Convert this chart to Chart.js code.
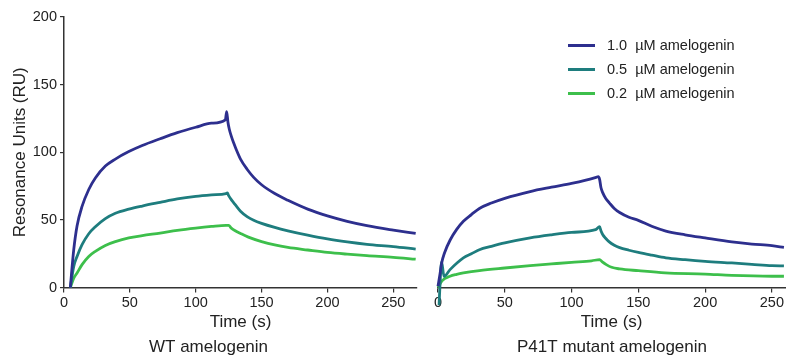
<!DOCTYPE html>
<html>
<head>
<meta charset="utf-8">
<script src="https://cdn.jsdelivr.net/npm/chart.js@4.4.1/dist/chart.umd.min.js"></script>
<style>
  body { margin: 0; background: #fff; }
  .wrap { position: relative; width: 786px; height: 362px; overflow: hidden; }
  #left { position: absolute; left: 0; top: 0; }
  #right { position: absolute; left: 425px; top: 0; }
  .legend { position: absolute; left: 568px; top: 33px; font-family: "Liberation Sans", Arial, sans-serif; font-size: 14.5px; color: #222; }
  .legend div { height: 24px; line-height: 24px; white-space: nowrap; }
  .legend span { display: inline-block; width: 27px; height: 3px; vertical-align: middle; margin-right: 12px; position: relative; top: -1px; }
</style>
</head>
<body>
<div class="wrap">
  <canvas id="left" width="425" height="362"></canvas>
  <canvas id="right" width="361" height="362"></canvas>
  <div class="legend" id="legend"></div>
</div>
<script>
// series labels + colours
var labels = ["1.0\u00a0 \u00b5M amelogenin", "0.5\u00a0 \u00b5M amelogenin", "0.2\u00a0 \u00b5M amelogenin"];
var colors = ["#2d2f8e", "#1e7d7e", "#3dbf4b"];
var xTicks = [0, 50, 100, 150, 200, 250];
var yTicks = [0, 50, 100, 150, 200];

// WT amelogenin (left panel)
var wtBlueT = [4.8, 7.4, 9.9, 13.7, 18.8, 23.8, 31.4, 39, 49.2, 59.4, 73, 86, 100, 112, 122.5, 123.5, 124.5, 125.5, 127, 129, 131, 134, 139, 144, 150, 160, 170, 185, 200, 215, 230, 250, 267];
var wtBlueV = [0, 28, 45.5, 60, 72.5, 81, 89.8, 95, 100.5, 105, 110, 114.5, 118.5, 121.5, 124, 130, 122, 117, 112, 106.5, 101.5, 95, 87.5, 81.5, 76, 69.5, 64.5, 58, 53, 49, 45.8, 42.5, 40];
var wtTealT = [4.8, 7.4, 9.9, 13.7, 18.8, 23.8, 31.4, 39, 49.2, 59.4, 73, 86, 100, 112, 123, 124, 125, 127, 129, 131, 134, 139, 144, 150, 160, 170, 185, 200, 215, 230, 250, 267];
var wtTealV = [0, 15.7, 23, 31.7, 39.8, 45, 51, 55, 58, 60.3, 63, 65.5, 67.4, 68.5, 69.5, 70, 68, 65, 62.5, 60, 56.5, 52.5, 49.8, 47.5, 44.5, 42, 38.8, 36, 33.8, 32, 30.3, 28.5];
var wtGreenT = [4.8, 7.4, 9.9, 13.7, 18.8, 23.8, 31.4, 39, 49.2, 59.4, 73, 86, 100, 112, 123, 125, 127, 130, 134, 140, 150, 160, 170, 185, 200, 215, 230, 250, 267];
var wtGreenV = [0, 7, 10.8, 17, 23, 26.8, 31.2, 34, 36.7, 38.4, 40.3, 42.3, 44, 45.2, 46, 46, 44, 42, 40, 37.3, 34, 31.5, 29.7, 27.8, 26, 24.7, 23.6, 22.4, 21];

// P41T mutant amelogenin (right panel)
var mutBlueT = [0, 1.5, 2.7, 5, 9, 14, 19, 25, 31, 40, 50, 69, 85, 100, 110, 118.4, 120, 121, 122, 123.4, 125.5, 128.4, 132, 136, 143, 150, 160, 170.6, 185, 200, 220, 235, 250, 259];
var mutBlueV = [1, 10, 18, 26, 35, 43, 49, 54, 58.5, 62.5, 66, 71, 74.2, 77, 79.2, 81.5, 82, 80, 74, 70, 66, 62.5, 58.5, 55.5, 52, 49.7, 45.3, 41.8, 39, 36.7, 33.8, 32.2, 31, 29.7];
var mutTealT = [0.8, 1.4, 2.7, 4.5, 9, 14, 19, 25, 31, 40, 50, 69, 85, 100, 118, 121, 122, 123.4, 125.5, 128, 132, 136, 143, 150, 160, 170.6, 185, 200, 220, 235, 250, 259];
var mutTealV = [-13, 0, 19, 8.4, 13.3, 18, 22, 25, 28, 30.5, 33, 36.7, 39, 40.8, 42.8, 45, 42, 39, 36.5, 34, 31.3, 29.5, 27.6, 26, 24, 22, 20.6, 19.4, 18.2, 17.2, 16.2, 16];
var mutGreenT = [0, 3, 9, 14, 19, 31, 50, 69, 85, 100, 115, 121, 123, 126, 130, 136, 150, 170, 200, 220, 250, 259];
var mutGreenV = [0, 5, 8.4, 9.8, 10.8, 12.6, 14.5, 16.2, 17.5, 18.7, 19.8, 20.7, 19, 17, 15, 13.8, 12.5, 10.9, 10, 9, 8.4, 8.4];

var FONT = "'Liberation Sans', Arial, sans-serif";
var INK = "#222";

function pts(t, v) {
  return t.map(function(x, i) { return { x: x, y: v[i] }; });
}

function dataset(i, t, v) {
  return {
    label: labels[i],
    data: pts(t, v),
    borderColor: colors[i],
    backgroundColor: colors[i],
    borderWidth: 2.8,
    pointRadius: 0,
    cubicInterpolationMode: 'monotone',
    clip: false
  };
}

function keepTicks(list) {
  return function(scale) {
    scale.ticks = list.map(function(v) { return { value: v }; });
  };
}

function makeChart(id, sets, opts) {
  var ctx = document.getElementById(id).getContext('2d');
  return new Chart(ctx, {
    type: 'line',
    data: { datasets: sets },
    options: {
      responsive: false,
      animation: false,
      devicePixelRatio: 1,
      layout: { padding: { top: 17, left: opts.padLeft, right: opts.padRight, bottom: 0 } },
      plugins: {
        legend: { display: false },
        tooltip: { enabled: false },
        title: {
          display: true,
          text: opts.title,
          position: 'bottom',
          color: INK,
          font: { family: FONT, size: 17, weight: 'normal', lineHeight: 1.2 },
          padding: { top: 4, bottom: 4 }
        }
      },
      scales: {
        x: {
          type: 'linear',
          min: 0,
          max: opts.xMax,
          afterBuildTicks: keepTicks(xTicks),
          afterFit: function(s) { s.height = 46; },
          grid: { display: true, drawOnChartArea: false, drawTicks: true, tickLength: 5, color: '#333', lineWidth: 1.2 },
          border: { display: true, color: '#333', width: 1.5 },
          ticks: { color: INK, padding: 2, maxRotation: 0, font: { family: FONT, size: 14.5 } },
          title: { display: true, text: 'Time (s)', color: INK, padding: { top: 0, bottom: 1 }, font: { family: FONT, size: 17 } }
        },
        y: {
          type: 'linear',
          min: 0,
          max: 200,
          display: opts.showY,
          afterBuildTicks: keepTicks(yTicks),
          afterFit: function(s) { s.width = opts.showY ? 64 : 0; },
          grid: { display: true, drawOnChartArea: false, drawTicks: true, tickLength: 4, color: '#333', lineWidth: 1.2 },
          border: { display: true, color: '#333', width: 1.5 },
          ticks: { color: INK, padding: 3, font: { family: FONT, size: 14.5 } },
          title: { display: true, text: 'Resonance Units (RU)', color: INK, padding: { top: 10, bottom: 0 }, font: { family: FONT, size: 17 } }
        }
      }
    }
  });
}

makeChart('left', [
  dataset(0, wtBlueT, wtBlueV),
  dataset(1, wtTealT, wtTealV),
  dataset(2, wtGreenT, wtGreenV)
], { title: 'WT amelogenin', xMax: 268, showY: true, padLeft: 0, padRight: 8 });

makeChart('right', [
  dataset(0, mutBlueT, mutBlueV),
  dataset(1, mutTealT, mutTealV),
  dataset(2, mutGreenT, mutGreenV)
], { title: 'P41T mutant amelogenin', xMax: 260, showY: false, padLeft: 13, padRight: 0 });

// legend (top right of right panel)
var leg = document.getElementById('legend');
labels.forEach(function(txt, i) {
  var row = document.createElement('div');
  var sw = document.createElement('span');
  sw.style.background = colors[i];
  row.appendChild(sw);
  row.appendChild(document.createTextNode(txt));
  leg.appendChild(row);
});
</script>
</body>
</html>
